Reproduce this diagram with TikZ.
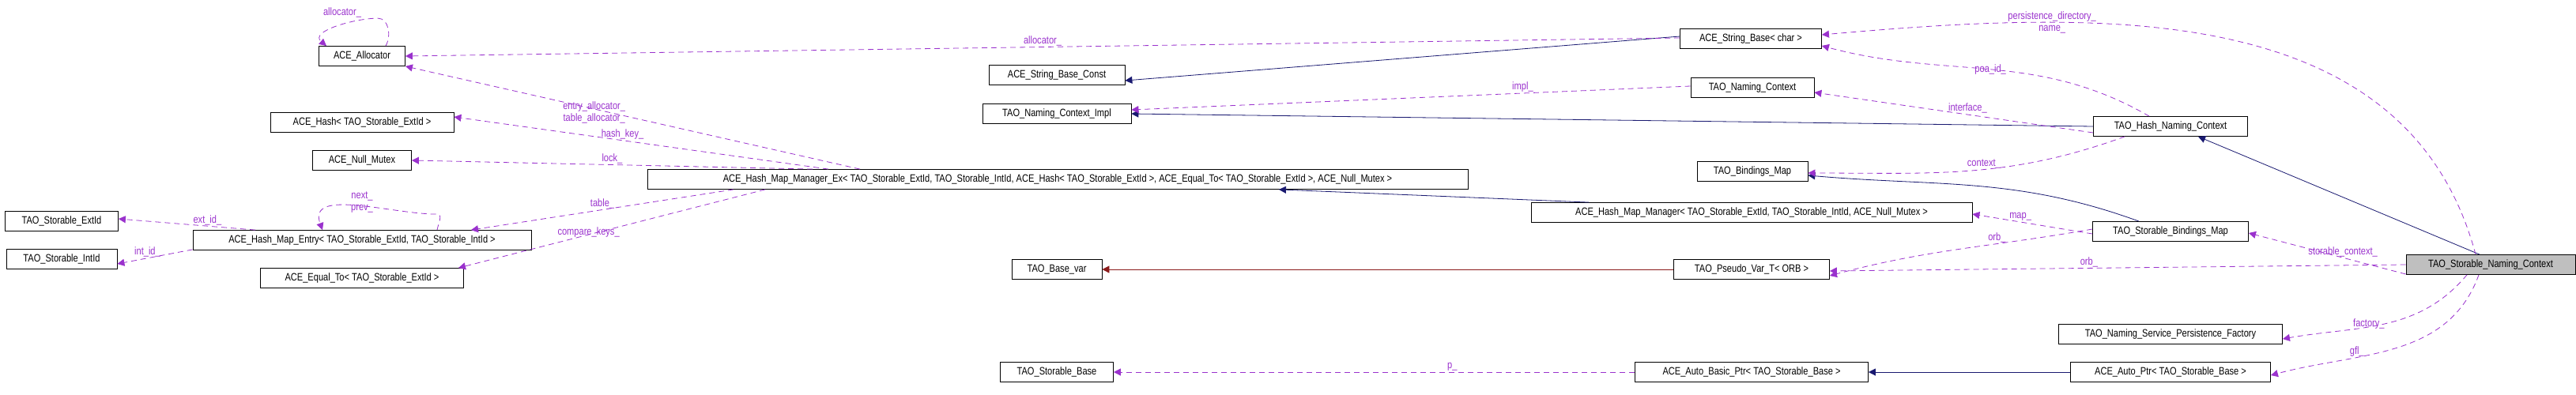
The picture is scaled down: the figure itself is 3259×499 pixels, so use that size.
\documentclass[tikz,border=0pt]{standalone}
\usepackage{fontspec}
\setmainfont[FakeStretch=0.82]{Liberation Sans}
\usetikzlibrary{arrows.meta}
\definecolor{inh}{HTML}{191970}
\definecolor{use}{HTML}{9A32CD}
\definecolor{tpl}{HTML}{8B1A1A}
\tikzset{cls/.style = {draw, thick, minimum height=25pt, inner sep=0pt, font=\fontsize{13.5}{14}\selectfont}}
\tikzset{inherit/.style = {-{Triangle[length=9pt,width=9pt]}, inh, thick}}
\tikzset{member/.style = {-{Triangle[length=9pt,width=9pt]}, use, thick, dash pattern=on 7pt off 5pt}}
\tikzset{lbl/.style = {font=\fontsize{13.5}{15}\selectfont, align=center, inner sep=1pt}}

\begin{document}
\begin{tikzpicture}[x=1pt, y=-1pt]
  \useasboundingbox (0,0) rectangle (3259,499);
  % classes
  \node [cls, minimum width=109pt] (alloc) at (458,71) {ACE\_Allocator};
  \node [cls, minimum width=232pt] (hash) at (458,155) {ACE\_Hash< TAO\_Storable\_ExtId >};
  \node [cls, minimum width=125pt] (mutex) at (458,203) {ACE\_Null\_Mutex};
  \node [cls, minimum width=1038pt] (mgrex) at (1338,227) {ACE\_Hash\_Map\_Manager\_Ex< TAO\_Storable\_ExtId, TAO\_Storable\_IntId, ACE\_Hash< TAO\_Storable\_ExtId >, ACE\_Equal\_To< TAO\_Storable\_ExtId >, ACE\_Null\_Mutex >};
  \node [cls, minimum width=143pt] (extid) at (78,280) {TAO\_Storable\_ExtId};
  \node [cls, minimum width=428pt] (entry) at (458,304) {ACE\_Hash\_Map\_Entry< TAO\_Storable\_ExtId, TAO\_Storable\_IntId >};
  \node [cls, minimum width=140pt] (intid) at (78,328) {TAO\_Storable\_IntId};
  \node [cls, minimum width=257pt] (equal) at (458,352) {ACE\_Equal\_To< TAO\_Storable\_ExtId >};
  \node [cls, minimum width=172pt] (strconst) at (1337,95) {ACE\_String\_Base\_Const};
  \node [cls, minimum width=188pt] (ncimpl) at (1337,144) {TAO\_Naming\_Context\_Impl};
  \node [cls, minimum width=114pt] (basevar) at (1337,341) {TAO\_Base\_var};
  \node [cls, minimum width=143pt] (stbase) at (1337,471) {TAO\_Storable\_Base};
  \node [cls, minimum width=179pt] (strbase) at (2215,49) {ACE\_String\_Base< char >};
  \node [cls, minimum width=156pt] (nctx) at (2217,111) {TAO\_Naming\_Context};
  \node [cls, minimum width=140pt] (bmap) at (2217,217) {TAO\_Bindings\_Map};
  \node [cls, minimum width=558pt] (mgr) at (2216,269) {ACE\_Hash\_Map\_Manager< TAO\_Storable\_ExtId, TAO\_Storable\_IntId, ACE\_Null\_Mutex >};
  \node [cls, minimum width=197pt] (pvar) at (2216,341) {TAO\_Pseudo\_Var\_T< ORB >};
  \node [cls, minimum width=295pt] (abptr) at (2216,471) {ACE\_Auto\_Basic\_Ptr< TAO\_Storable\_Base >};
  \node [cls, minimum width=195pt] (hnc) at (2746,160) {TAO\_Hash\_Naming\_Context};
  \node [cls, minimum width=197pt] (sbmap) at (2746,293) {TAO\_Storable\_Bindings\_Map};
  \node [cls, minimum width=283pt] (factory) at (2746,423) {TAO\_Naming\_Service\_Persistence\_Factory};
  \node [cls, minimum width=253pt] (aptr) at (2746,471) {ACE\_Auto\_Ptr< TAO\_Storable\_Base >};
  \node [cls, minimum width=214pt, fill=black!25] (snc) at (3151,335) {TAO\_Storable\_Naming\_Context};

  % inheritance
  \draw [inherit] ([xshift=-14pt]snc.north) -- ([xshift=35pt]hnc.south);
  \draw [inherit] (hnc.west) -- (ncimpl.east);
  \draw [inherit] ([yshift=3pt]strbase.west) -- ([yshift=-7pt]strconst.east);
  \draw [inherit] ([xshift=-206pt]mgr.north) -- ([xshift=280pt]mgrex.south);
  \draw [inherit] ([xshift=-40pt]sbmap.north) to[out=160, in=-5] ([yshift=-5pt]bmap.east);
  \draw [inherit, tpl] (pvar.west) -- (basevar.east);
  \draw [inherit] (aptr.west) -- (abptr.east);

  % members
  \draw [member] ([yshift=1pt]strbase.west) -- node [lbl, above, pos=0.5] {allocator\_} (alloc.east);
  \draw [member] ([xshift=30pt]alloc.north) to[out=60, in=0] ++(-10,-35) node [lbl, above, xshift=-45pt] {allocator\_}
    to[out=180, in=140] ([xshift=-45pt]alloc.north);
  \draw [member] ([xshift=-250pt]mgrex.north) -- node [lbl, pos=0.55, xshift=-20pt] {entry\_allocator\_\\table\_allocator\_} (alloc.south east);
  \draw [member] ([xshift=-290pt]mgrex.north) -- node [lbl, above, pos=0.55] {hash\_key\_} ([yshift=7pt]hash.east);
  \draw [member] ([xshift=-310pt]mgrex.north) -- node [lbl, above, pos=0.5] {lock\_} (mutex.east);
  \draw [member] ([xshift=-410pt]mgrex.south) -- node [lbl, above, pos=0.5] {table\_} ([xshift=138pt]entry.north);
  \draw [member] ([xshift=-370pt]mgrex.south) -- node [lbl, pos=0.55, xshift=-10pt] {compare\_keys\_} ([xshift=122pt]equal.north);
  \draw [member] ([xshift=95pt]entry.north) to[out=80, in=0] ++(0,-20) node [lbl, above, xshift=-95pt] {next\_\\prev\_}
    to[out=180, in=110] ([xshift=-50pt]entry.north);
  \draw [member] ([xshift=-135pt]entry.north) -- node [lbl, above, pos=0.35] {ext\_id\_} ([yshift=3pt]extid.east);
  \draw [member] ([yshift=1pt]entry.south west) -- node [lbl, above, pos=0.6] {int\_id\_} ([yshift=-6pt]intid.east);
  \draw [member] ([xshift=-27pt]hnc.north) to[out=150, in=-15] node [lbl, pos=0.5] {poa\_id\_} ([yshift=-9pt]strbase.east);
  \draw [member] ([xshift=-19pt]snc.north) to[out=105, in=5] node [lbl, pos=0.72] {persistence\_directory\_\\name\_} ([yshift=5pt]strbase.east);
  \draw [member] ([yshift=-8pt]hnc.west) -- node [lbl, above, pos=0.45] {interface\_} ([yshift=-6pt]nctx.east);
  \draw [member] ([yshift=2pt]nctx.west) -- node [lbl, above, pos=0.3] {impl\_} ([yshift=5pt]ncimpl.east);
  \draw [member] ([xshift=-58pt]hnc.south) to[out=200, in=0] node [lbl, above, pos=0.45] {context\_} ([yshift=-2pt]bmap.east);
  \draw [member] ([yshift=-3pt]sbmap.west) -- node [lbl, above, pos=0.6] {map\_} ([yshift=-2pt]mgr.east);
  \draw [member] ([yshift=3pt]sbmap.west) to[out=190, in=15] node [lbl, above, pos=0.35] {orb\_} ([yshift=-8pt]pvar.east);
  \draw [member] (snc.west) -- node [lbl, above, pos=0.55] {orb\_} ([yshift=-2pt]pvar.east);
  \draw [member] ([yshift=-12pt]snc.west) -- node [lbl, above, pos=0.4] {storable\_context\_} ([yshift=-2pt]sbmap.east);
  \draw [member] ([xshift=-30pt]snc.south) to[out=-130, in=10] node [lbl, pos=0.5, xshift=-20pt] {factory\_} ([yshift=-6pt]factory.east);
  \draw [member] ([xshift=-15pt]snc.south) to[out=-110, in=15] node [lbl, pos=0.55, xshift=-35pt] {gfl\_} ([yshift=-4pt]aptr.east);
  \draw [member] (abptr.west) -- node [lbl, above, pos=0.35] {p\_} (stbase.east);
\end{tikzpicture}
\end{document}
